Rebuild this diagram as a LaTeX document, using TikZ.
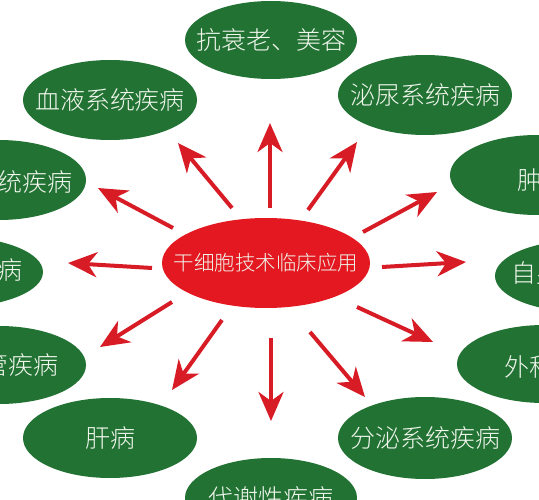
\documentclass[tikz,border=0pt]{standalone}
\usepackage{fontspec}
\usetikzlibrary{shapes.geometric,arrows.meta}
\newfontfamily\cjk{Noto Sans CJK SC Light}
\definecolor{leaf}{RGB}{34,114,52}
\definecolor{hub}{RGB}{228,24,32}
\definecolor{arr}{RGB}{216,28,38}
\definecolor{ink}{RGB}{240,246,236}
\begin{document}
\begin{tikzpicture}[x=1pt,y=-1pt,
  leafe/.style={ellipse, fill=leaf, inner sep=0, minimum width=174pt, minimum height=80pt},
  lbl/.style={text=ink, font=\cjk\fontsize{25}{25}\selectfont, inner sep=0},
  hubl/.style={text=ink, font=\cjk\fontsize{20.5}{20.5}\selectfont, inner sep=0},
  ray/.style={draw=arr, line width=4pt, -{Stealth[length=29pt,width=25pt,inset=9pt]}}
]
\useasboundingbox (0,0) rectangle (539,500);
\clip (0,0) rectangle (539,500);
\fill[white] (0,0) rectangle (539,500);

% outer ellipses
\node[leafe, minimum width=172pt, minimum height=78pt] (top) at (271,40) {};
\node[lbl] (topt) at (top.center) {抗衰老、美容};
\node[leafe] (blood) at (110,100) {};
\node[lbl] (bloodt) at (blood.center) {血液系统疾病};
\node[leafe] (urine) at (425,95) {};
\node[lbl] (urinet) at (urine.center) {泌尿系统疾病};
\node[leafe] (nerve) at (-1,180) {};
\node[lbl, anchor=east] (nervet) at (73,182) {统疾病};
\node[leafe, minimum height=70pt] (resp) at (-44,272) {};
\node[lbl, anchor=east] (respt) at (23,270) {疾病};
\node[leafe, minimum height=78pt] (heart) at (-1,365) {};
\node[lbl, anchor=east] (heartt) at (59,365) {管疾病};
\node[leafe] (liver) at (110,438) {};
\node[lbl] (livert) at (liver.center) {肝病};
\node[leafe, minimum width=172pt] (meta) at (271,498) {};
\node[lbl] (metat) at (meta.center) {代谢性疾病};
\node[leafe, minimum height=82pt] (endo) at (425,438) {};
\node[lbl] (endot) at (endo.center) {分泌系统疾病};
\node[leafe] (tumor) at (537,175) {};
\node[lbl, anchor=west] (tumort) at (517,180) {肿};
\node[leafe, minimum height=72pt] (auto) at (582,276) {};
\node[lbl, anchor=west] (autot) at (511,273) {自身};
\node[leafe, minimum height=78pt] (surg) at (544,364) {};
\node[lbl, anchor=west] (surgt) at (504,367) {外科};

% hub
\node[ellipse, fill=hub, inner sep=0, minimum width=208pt, minimum height=90pt] (hub) at (266,263) {};
\node[hubl] (hubt) at (hub.center) {干细胞技术临床应用};

% arrow ends
\coordinate (a1s) at (270,208); \coordinate (a1e) at (270,123);
\coordinate (a2s) at (308,210); \coordinate (a2e) at (357,142);
\coordinate (a3s) at (363,232); \coordinate (a3e) at (437,192);
\coordinate (a4s) at (382,267); \coordinate (a4e) at (466,262);
\coordinate (a5s) at (357,307); \coordinate (a5e) at (433,342);
\coordinate (a6s) at (310,332); \coordinate (a6e) at (365,397);
\coordinate (a7s) at (271,338); \coordinate (a7e) at (271,421);
\coordinate (a8s) at (222,320); \coordinate (a8e) at (172,390);
\coordinate (a9s) at (172,302); \coordinate (a9e) at (100,347);
\coordinate (a10s) at (152,268); \coordinate (a10e) at (68,263);
\coordinate (a11s) at (173,228); \coordinate (a11e) at (98,188);
\coordinate (a12s) at (232,208); \coordinate (a12e) at (178,143);
\foreach \i in {1,...,12} { \draw[ray] (a\i s) -- (a\i e); }
\end{tikzpicture}
\end{document}
